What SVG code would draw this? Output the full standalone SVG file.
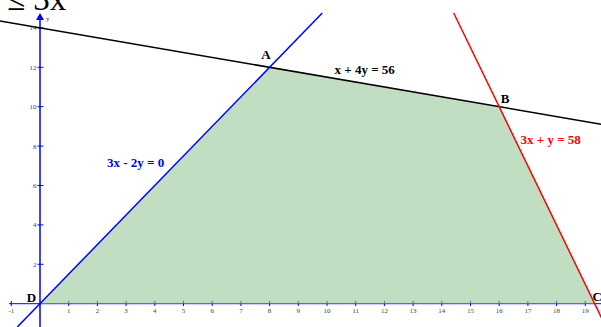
<svg xmlns="http://www.w3.org/2000/svg" width="601" height="327" viewBox="0 0 601 327">
<style>
.tick{stroke:#0000ff;stroke-width:1}
.tl{font-family:"Liberation Serif",serif;font-size:7px;fill:#444}
.lab{font-family:"Liberation Serif",serif;font-weight:bold;font-size:13px}
.ln{fill:none;stroke-width:1.5}
</style>
<rect width="601" height="327" fill="#fff"/>
<text x="7" y="9.5" font-family="Liberation Serif,serif" font-size="33" fill="#000">≤ 3x</text>
<g id="axes">
<line x1="9" y1="303.7" x2="601" y2="303.7" stroke="#0000ff" stroke-width="1"/>
<line x1="40" y1="18" x2="40" y2="327" stroke="#0000ff" stroke-width="1.5"/>
<path d="M40,13 L36,20 L44,20 Z" fill="#0000ff"/>
<text x="46" y="21" class="tl" fill="#333">y</text>
<g class="tick">
<line x1="11.3" y1="301" x2="11.3" y2="306"/>
<line x1="68.7" y1="301" x2="68.7" y2="306"/>
<line x1="97.4" y1="301" x2="97.4" y2="306"/>
<line x1="126.1" y1="301" x2="126.1" y2="306"/>
<line x1="154.8" y1="301" x2="154.8" y2="306"/>
<line x1="183.5" y1="301" x2="183.5" y2="306"/>
<line x1="212.2" y1="301" x2="212.2" y2="306"/>
<line x1="240.9" y1="301" x2="240.9" y2="306"/>
<line x1="269.6" y1="301" x2="269.6" y2="306"/>
<line x1="298.3" y1="301" x2="298.3" y2="306"/>
<line x1="327" y1="301" x2="327" y2="306"/>
<line x1="355.7" y1="301" x2="355.7" y2="306"/>
<line x1="384.4" y1="301" x2="384.4" y2="306"/>
<line x1="413.1" y1="301" x2="413.1" y2="306"/>
<line x1="441.8" y1="301" x2="441.8" y2="306"/>
<line x1="470.5" y1="301" x2="470.5" y2="306"/>
<line x1="499.2" y1="301" x2="499.2" y2="306"/>
<line x1="527.9" y1="301" x2="527.9" y2="306"/>
<line x1="556.6" y1="301" x2="556.6" y2="306"/>
<line x1="585.3" y1="301" x2="585.3" y2="306"/>
<line x1="37.5" y1="264.3" x2="43.5" y2="264.3"/>
<line x1="37.5" y1="224.9" x2="43.5" y2="224.9"/>
<line x1="37.5" y1="185.5" x2="43.5" y2="185.5"/>
<line x1="37.5" y1="146.1" x2="43.5" y2="146.1"/>
<line x1="37.5" y1="106.7" x2="43.5" y2="106.7"/>
<line x1="37.5" y1="67.3" x2="43.5" y2="67.3"/>
<line x1="37.5" y1="27.9" x2="43.5" y2="27.9"/>
</g>
<g class="tl" text-anchor="middle">
<text x="11.3" y="312.5">-1</text>
<text x="68.7" y="312.5">1</text>
<text x="97.4" y="312.5">2</text>
<text x="126.1" y="312.5">3</text>
<text x="154.8" y="312.5">4</text>
<text x="183.5" y="312.5">5</text>
<text x="212.2" y="312.5">6</text>
<text x="240.9" y="312.5">7</text>
<text x="269.6" y="312.5">8</text>
<text x="298.3" y="312.5">9</text>
<text x="327" y="312.5">10</text>
<text x="355.7" y="312.5">11</text>
<text x="384.4" y="312.5">12</text>
<text x="413.1" y="312.5">13</text>
<text x="441.8" y="312.5">14</text>
<text x="470.5" y="312.5">15</text>
<text x="499.2" y="312.5">16</text>
<text x="527.9" y="312.5">17</text>
<text x="556.6" y="312.5">18</text>
<text x="585.3" y="312.5">19</text>
</g>
<g class="tl" text-anchor="end">
<text x="36.5" y="266.8">2</text>
<text x="36.5" y="227.4">4</text>
<text x="36.5" y="188">6</text>
<text x="36.5" y="148.6">8</text>
<text x="36.5" y="109.2">10</text>
<text x="36.5" y="69.8">12</text>
<text x="36.5" y="30.4">14</text>
</g>
</g>
<g id="region">
<polygon points="40,303.7 269.6,67.3 499.2,106.7 594.9,303.7" fill="#8fc28f" fill-opacity="0.55"/>
</g>
<g id="connectors">
<line class="ln" x1="0" y1="21" x2="601" y2="124.2" stroke="#000"/>
<line class="ln" x1="17.3" y1="327" x2="322.3" y2="13" stroke="#0000ff"/>
<line class="ln" x1="453.7" y1="13" x2="606" y2="327" stroke="#ff0000"/>
</g>
<g id="node-A"><text class="lab" x="266" y="59.3" text-anchor="middle" font-size="12">A</text></g>
<g id="node-B"><text class="lab" x="505" y="102.7" text-anchor="middle">B</text></g>
<g id="node-C"><text class="lab" x="592.5" y="300.5">C</text></g>
<g id="node-D"><text class="lab" x="31.5" y="302.3" text-anchor="middle" font-size="14">D</text></g>
<g id="label-black"><text class="lab" x="334.5" y="73.7">x + 4y = 56</text></g>
<g id="label-red"><text class="lab" x="520.5" y="144" fill="#ff0000">3x + y = 58</text></g>
<g id="label-blue"><text class="lab" x="107" y="166.5" fill="#0000ff">3x - 2y = 0</text></g>
</svg>
